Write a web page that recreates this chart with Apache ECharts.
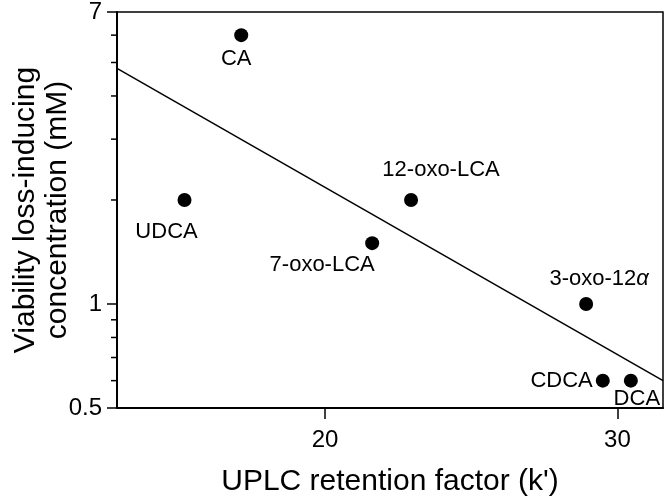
<!DOCTYPE html>
<html>
<head>
<meta charset="utf-8">
<script src="https://cdn.jsdelivr.net/npm/echarts@6/dist/echarts.min.js"></script>
<style>html,body{margin:0;padding:0;background:#fff}#c{width:667px;height:502px}</style>
</head>
<body>
<div id="c"></div>
<script>
// ---- data ----
const names = ['CA', 'UDCA', '12-oxo-LCA', '7-oxo-LCA', '3-oxo-12α', 'CDCA', 'DCA'];
const retention = [17.13, 15.19, 22.94, 21.61, 28.93, 29.50, 30.46];
const concentration = [6.0, 2.0, 2.0, 1.5, 1.0, 0.6, 0.6];
const fitX = [12.88, 31.56];
const fitY = [4.81, 0.6];
const xTickValues = [20, 30];
const yMajorTicks = [0.5, 1, 7];
const yMinorTicks = [0.6, 0.7, 0.8, 0.9, 2, 3, 4, 5, 6];
const xRange = [12.88, 31.56];
const yRange = [0.5, 7];

// ---- styling ----
const FONT = '"Liberation Sans", Arial, sans-serif';
const LABEL_SIZE = 22;
const labelStyle = {
  'CA':         { position: 'bottom', offset: [-5, 1] },
  'UDCA':       { position: 'bottom', offset: [-18, 9] },
  '12-oxo-LCA': { position: 'top',    offset: [30, -7] },
  '7-oxo-LCA':  { position: 'bottom', offset: [-50, -1] },
  '3-oxo-12α':  { position: 'top',    offset: [13, -2] },
  'CDCA':       { position: 'left',   offset: [2, 0] },
  'DCA':        { position: 'bottom', offset: [6, -5] }
};

const scatterData = names.map((n, i) => {
  const ls = labelStyle[n];
  return {
    value: [retention[i], concentration[i]],
    name: n,
    label: {
      show: true,
      position: ls.position,
      offset: ls.offset,
      distance: 5,
      formatter: n === '3-oxo-12α' ? '3-oxo-12{a|α}' : n,
      rich: { a: { fontStyle: 'italic', fontSize: LABEL_SIZE, fontFamily: FONT, color: '#000' } }
    }
  };
});

const yTickData = yMajorTicks.map(v => [xRange[0], v, 1]).concat(yMinorTicks.map(v => [xRange[0], v, 0]));

const chart = echarts.init(document.getElementById('c'), null, { renderer: 'canvas' });
chart.setOption({
  backgroundColor: '#fff',
  animation: false,
  grid: { left: 117, right: 4, top: 12, bottom: 94, show: true, borderColor: '#000', borderWidth: 1.5 },
  xAxis: {
    type: 'value', min: xRange[0], max: xRange[1],
    splitLine: { show: false },
    axisLine: { show: true, onZero: false, lineStyle: { color: '#000', width: 2 } },
    axisTick: { show: true, customValues: xTickValues, length: 11, lineStyle: { color: '#000', width: 1.5 } },
    axisLabel: { show: true, customValues: xTickValues, margin: 20, fontSize: 24, color: '#000', fontFamily: FONT },
    name: "UPLC retention factor (k')",
    nameLocation: 'middle', nameGap: 59,
    nameTextStyle: { fontSize: 30, color: '#000', fontFamily: FONT }
  },
  yAxis: {
    type: 'log', logBase: 10, min: yRange[0], max: yRange[1],
    splitLine: { show: false },
    axisLine: { show: true, onZero: false, lineStyle: { color: '#000', width: 2 } },
    axisTick: { show: false },
    axisLabel: { show: false },
    minorTick: { show: false },
    name: 'Viability loss-inducing\nconcentration (mM)',
    nameLocation: 'middle', nameRotate: 90, nameGap: 43,
    nameTextStyle: { fontSize: 30, lineHeight: 32, color: '#000', fontFamily: FONT, align: 'center' }
  },
  series: [
    {
      type: 'line',
      data: fitX.map((x, i) => [x, fitY[i]]),
      symbol: 'none',
      lineStyle: { color: '#000', width: 1.5 },
      silent: true
    },
    {
      type: 'scatter',
      data: scatterData,
      symbol: 'circle',
      symbolSize: 14,
      itemStyle: { color: '#000', opacity: 1 },
      label: { color: '#000', fontSize: LABEL_SIZE, fontFamily: FONT }
    },
    {
      type: 'custom',
      clip: false,
      silent: true,
      data: yTickData,
      renderItem: function (params, api) {
        const p = api.coord([api.value(0), api.value(1)]);
        const major = api.value(2) === 1;
        const len = major ? 10 : 6;
        const children = [{
          type: 'line',
          shape: { x1: p[0] - len, y1: p[1], x2: p[0], y2: p[1] },
          style: { stroke: '#000', lineWidth: 1.5 }
        }];
        if (major) {
          children.push({
            type: 'text',
            x: p[0] - 15, y: p[1],
            style: { text: String(api.value(1)), align: 'right', verticalAlign: 'middle', fontSize: 24, fontFamily: FONT, fill: '#000' }
          });
        }
        return { type: 'group', children: children };
      }
    }
  ]
});
</script>
</body>
</html>
